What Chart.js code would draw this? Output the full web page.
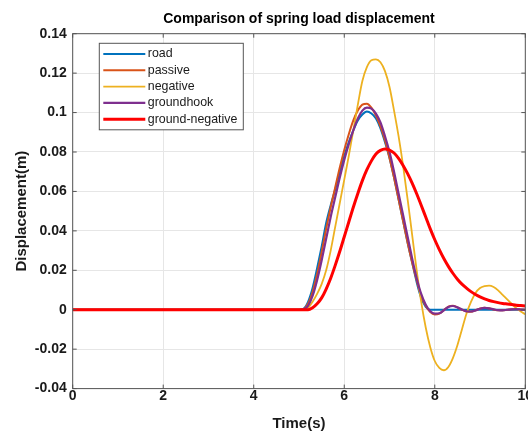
<!DOCTYPE html>
<html>
<head>
<meta charset="utf-8">
<script src="https://cdn.jsdelivr.net/npm/chart.js@4/dist/chart.umd.min.js"></script>
<style>
  html, body { margin: 0; padding: 0; background: #fff; }
  #wrap { width: 528px; height: 434px; position: relative; }
</style>
</head>
<body>
<div id="wrap"><canvas id="chart"></canvas></div>
<script>
// Sample times (s): flat until 5 s, then every 0.1 s
const TIME = [0,
  5.0, 5.1, 5.2, 5.3, 5.4, 5.5, 5.6, 5.7, 5.8, 5.9,
  6.0, 6.1, 6.2, 6.3, 6.4, 6.5, 6.6, 6.7, 6.8, 6.9,
  7.0, 7.1, 7.2, 7.3, 7.4, 7.5, 7.6, 7.7, 7.8, 7.9,
  8.0, 8.1, 8.2, 8.3, 8.4, 8.5, 8.6, 8.7, 8.8, 8.9,
  9.0, 9.1, 9.2, 9.3, 9.4, 9.5, 9.6, 9.7, 9.8, 9.9,
  10.0];

// Displacement (m)
const ROAD = [0,
  0, 0.0005, 0.004, 0.011, 0.021, 0.032, 0.044, 0.053, 0.061, 0.070,
  0.078, 0.085, 0.091, 0.096, 0.099, 0.1005, 0.0995, 0.097, 0.092, 0.085,
  0.077, 0.067, 0.056, 0.045, 0.034, 0.024, 0.014, 0.006, 0.0015, 0,
  0, 0, 0, 0, 0, 0, 0, 0, 0, 0,
  0, 0, 0, 0, 0, 0, 0, 0, 0, 0,
  0];
const PASSIVE = [0,
  0, 0.0003, 0.003, 0.009, 0.018, 0.029, 0.041, 0.052, 0.062, 0.072,
  0.081, 0.089, 0.096, 0.101, 0.104, 0.1045, 0.1025, 0.0985, 0.093, 0.086,
  0.077, 0.067, 0.056, 0.045, 0.034, 0.024, 0.015, 0.007, 0.002, -0.0012,
  -0.0024, -0.002, -0.0002, 0.0016, 0.002, 0.0012, 0, -0.0009, -0.001, -0.0003,
  0.0006, 0.001, 0.0007, 0.0001, -0.0003, -0.0003, 0, 0.0003, 0.0003, 0.0001,
  0];
const NEGATIVE = [0,
  0, 0, 0.001, 0.004, 0.008, 0.013, 0.020, 0.030, 0.042, 0.054,
  0.066, 0.078, 0.091, 0.104, 0.116, 0.123, 0.1265, 0.127, 0.1255, 0.121,
  0.113, 0.101, 0.088, 0.073, 0.056, 0.038, 0.020, 0.004, -0.009, -0.019,
  -0.026, -0.0295, -0.0307, -0.029, -0.0245, -0.018, -0.010, -0.002, 0.004, 0.0085,
  0.011, 0.012, 0.0122, 0.0115, 0.0098, 0.0075, 0.0052, 0.003, 0.0008, -0.0009,
  -0.0023];
const GROUNDHOOK = [0,
  0, 0.0002, 0.002, 0.007, 0.015, 0.025, 0.036, 0.047, 0.057, 0.067,
  0.076, 0.084, 0.091, 0.097, 0.101, 0.1025, 0.102, 0.0995, 0.095, 0.088,
  0.080, 0.070, 0.059, 0.048, 0.037, 0.026, 0.016, 0.008, 0.0025, -0.0008,
  -0.002, -0.0018, -0.0003, 0.0014, 0.0019, 0.0012, 0.0001, -0.0008, -0.0009, -0.0003,
  0.0005, 0.0009, 0.0007, 0.0002, -0.0002, -0.0003, 0, 0.0002, 0.0003, 0.0001,
  0];
const GROUND_NEGATIVE = [0,
  0, 0, 0, 0.001, 0.003, 0.006, 0.0105, 0.016, 0.0225, 0.0295,
  0.037, 0.0445, 0.052, 0.059, 0.0655, 0.071, 0.0755, 0.079, 0.0808, 0.0815,
  0.081, 0.0795, 0.0768, 0.0732, 0.069, 0.0642, 0.0588, 0.053, 0.047, 0.041,
  0.0355, 0.0305, 0.026, 0.022, 0.0185, 0.0155, 0.013, 0.011, 0.0092, 0.0077,
  0.0065, 0.0055, 0.0047, 0.0041, 0.0036, 0.0032, 0.0029, 0.0026, 0.0023, 0.0021,
  0.0019];

const SERIES_LABELS = ["road", "passive", "negative", "groundhook", "ground-negative"];
const SERIES_COLORS = ["#0072BD", "#D95319", "#EDB120", "#7E2F8E", "#FF0000"];
const SERIES_WIDTHS = [2, 2, 1.8, 2.2, 3];
const SERIES_VALUES = [ROAD, PASSIVE, NEGATIVE, GROUNDHOOK, GROUND_NEGATIVE];

const FONT = '"Liberation Sans", Arial, sans-serif';
const AXIS_COLOR = "#555";
const TEXT_COLOR = "#1a1a1a";
const TICK_LEN = 4;

Chart.defaults.font.family = FONT;
Chart.defaults.color = TEXT_COLOR;

// MATLAB-like box with inward ticks, plus the legend inside the axes
const matlabFrame = {
  id: "matlabFrame",
  afterDatasetsDraw(chart) {
    const { ctx, chartArea: a, scales: { x, y } } = chart;
    ctx.save();
    ctx.strokeStyle = AXIS_COLOR;
    ctx.lineWidth = 1;
    ctx.beginPath();
    x.ticks.forEach((t) => {
      const px = x.getPixelForValue(t.value);
      ctx.moveTo(px, a.bottom); ctx.lineTo(px, a.bottom - TICK_LEN);
      ctx.moveTo(px, a.top); ctx.lineTo(px, a.top + TICK_LEN);
    });
    y.ticks.forEach((t) => {
      const py = y.getPixelForValue(t.value);
      ctx.moveTo(a.left, py); ctx.lineTo(a.left + TICK_LEN, py);
      ctx.moveTo(a.right, py); ctx.lineTo(a.right - TICK_LEN, py);
    });
    ctx.stroke();
    ctx.strokeRect(a.left, a.top, a.right - a.left, a.bottom - a.top);
    ctx.restore();
  },
  afterDraw(chart) {
    const { ctx, chartArea: a } = chart;
    const left = a.left + 26.6, top = a.top + 9.6, w = 144, h = 86.5;
    ctx.save();
    ctx.fillStyle = "#fff";
    ctx.fillRect(left, top, w, h);
    ctx.strokeStyle = AXIS_COLOR;
    ctx.lineWidth = 1;
    ctx.strokeRect(left, top, w, h);
    ctx.font = "12.4px " + FONT;
    ctx.textBaseline = "middle";
    chart.data.datasets.forEach((ds, i) => {
      const yy = top + 10.7 + i * 16.3;
      ctx.strokeStyle = ds.borderColor;
      ctx.lineWidth = ds.borderWidth;
      ctx.beginPath();
      ctx.moveTo(left + 4, yy);
      ctx.lineTo(left + 46, yy);
      ctx.stroke();
      ctx.fillStyle = TEXT_COLOR;
      ctx.fillText(ds.label, left + 48.5, yy);
    });
    ctx.restore();
  }
};

const datasets = SERIES_LABELS.map((label, i) => ({
  label,
  data: TIME.map((t, k) => ({ x: t, y: SERIES_VALUES[i][k] })),
  borderColor: SERIES_COLORS[i],
  backgroundColor: SERIES_COLORS[i],
  borderWidth: SERIES_WIDTHS[i],
  pointRadius: 0,
  cubicInterpolationMode: "monotone",
  order: SERIES_LABELS.length - i
}));

new Chart(document.getElementById("chart"), {
  type: "line",
  data: { datasets },
  plugins: [matlabFrame],
  options: {
    responsive: true,
    maintainAspectRatio: false,
    animation: false,
    layout: { autoPadding: false, padding: { left: 0, right: 2.7, top: 0, bottom: 0 } },
    plugins: {
      legend: { display: false },
      tooltip: { enabled: false },
      title: {
        display: true,
        text: "Comparison of spring load displacement",
        fullSize: false,
        color: "#000",
        font: { size: 14, weight: "bold", lineHeight: 1.2 },
        padding: { top: 11, bottom: 5.9 }
      }
    },
    scales: {
      x: {
        type: "linear",
        min: 0,
        max: 10,
        afterFit: (s) => { s.height = 45.4; s.paddingLeft = 0; s.paddingRight = 0; },
        ticks: { stepSize: 2, padding: 1, color: TEXT_COLOR, font: { size: 14, weight: "bold", lineHeight: 1 } },
        grid: { color: "#e6e6e6", drawTicks: false },
        border: { display: false },
        title: { display: true, text: "Time(s)", color: TEXT_COLOR, font: { size: 15, weight: "bold", lineHeight: 1.2 }, padding: { top: 0, bottom: 1 } }
      },
      y: {
        min: -0.04,
        max: 0.14,
        afterFit: (s) => { s.width = 72.7; },
        ticks: {
          stepSize: 0.02,
          padding: 6,
          color: TEXT_COLOR,
          font: { size: 14, weight: "bold" },
          callback: (v) => String(Number(v.toFixed(2)))
        },
        grid: { color: "#e6e6e6", drawTicks: false },
        border: { display: false },
        title: { display: true, text: "Displacement(m)", color: TEXT_COLOR, font: { size: 15, weight: "bold", lineHeight: 1.2 }, padding: { top: 13, bottom: 0 } }
      }
    }
  }
});
</script>
</body>
</html>
